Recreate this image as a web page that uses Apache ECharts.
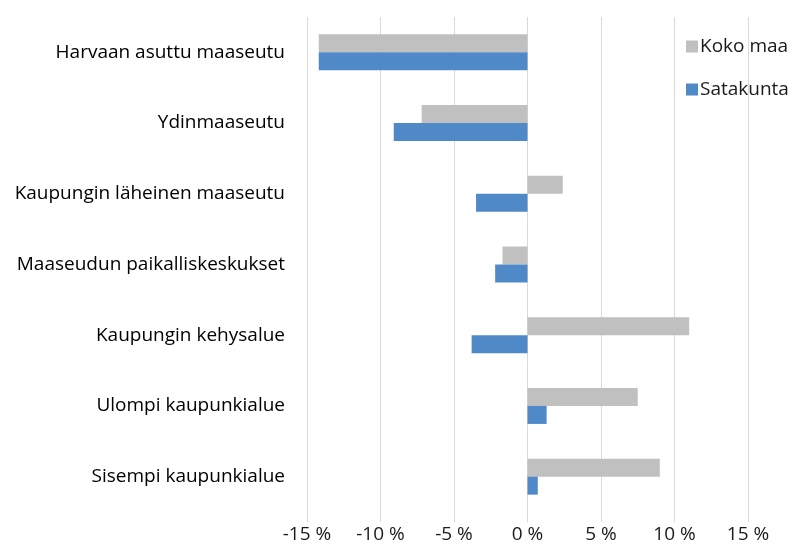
<!DOCTYPE html>
<html>
<head>
<meta charset="utf-8">
<script src="https://cdn.jsdelivr.net/npm/echarts@6/dist/echarts.min.js"></script>
<style>
  html, body { margin: 0; padding: 0; background: #fff; }
  #chart { width: 794px; height: 549px; }
</style>
</head>
<body>
<div id="chart"></div>
<script>
var categories = [
  'Harvaan asuttu maaseutu',
  'Ydinmaaseutu',
  'Kaupungin läheinen maaseutu',
  'Maaseudun paikalliskeskukset',
  'Kaupungin kehysalue',
  'Ulompi kaupunkialue',
  'Sisempi kaupunkialue'
];
var kokoMaa = [-14.2, -7.2, 2.4, -1.7, 11.0, 7.5, 9.0];
var satakunta = [-14.2, -9.1, -3.5, -2.2, -3.8, 1.3, 0.7];
var seriesNames = ['Koko maa', 'Satakunta'];

var chart = echarts.init(document.getElementById('chart'));
var fontFam = '"Open Sans", "Liberation Sans", sans-serif';

chart.setOption({
  animation: false,
  textStyle: { fontFamily: fontFam },
  legend: {
    data: seriesNames,
    orient: 'vertical',
    left: 681,
    top: 32,
    itemWidth: 12,
    itemHeight: 12,
    itemGap: 24,
    icon: 'rect',
    textStyle: { fontSize: 19, color: '#1a1a1a', fontFamily: fontFam, padding: [0, 0, 0, -3] }
  },
  grid: { left: 307, right: 46, top: 17, bottom: 37, containLabel: false },
  xAxis: {
    type: 'value',
    min: -15,
    max: 15,
    interval: 5,
    axisLine: { show: false },
    axisTick: { show: true, length: 10, lineStyle: { color: '#d9d9d9' } },
    splitLine: { show: true, lineStyle: { color: '#d9d9d9', width: 1 } },
    axisLabel: {
      formatter: function (v) { return v + ' %'; },
      fontSize: 19,
      color: '#1a1a1a',
      margin: 13,
      fontFamily: fontFam
    }
  },
  yAxis: {
    type: 'category',
    data: categories,
    inverse: true,
    axisLine: { show: false },
    axisTick: { show: false },
    splitLine: { show: false },
    axisLabel: { fontSize: 19, color: '#000', margin: 22, fontFamily: fontFam }
  },
  series: [
    {
      name: seriesNames[0],
      type: 'bar',
      data: kokoMaa,
      barWidth: 18,
      barGap: '0%',
      itemStyle: { color: '#c0c0c0' }
    },
    {
      name: seriesNames[1],
      type: 'bar',
      data: satakunta,
      barWidth: 18,
      barGap: '0%',
      itemStyle: { color: '#5089c8' }
    }
  ]
});
</script>
</body>
</html>
